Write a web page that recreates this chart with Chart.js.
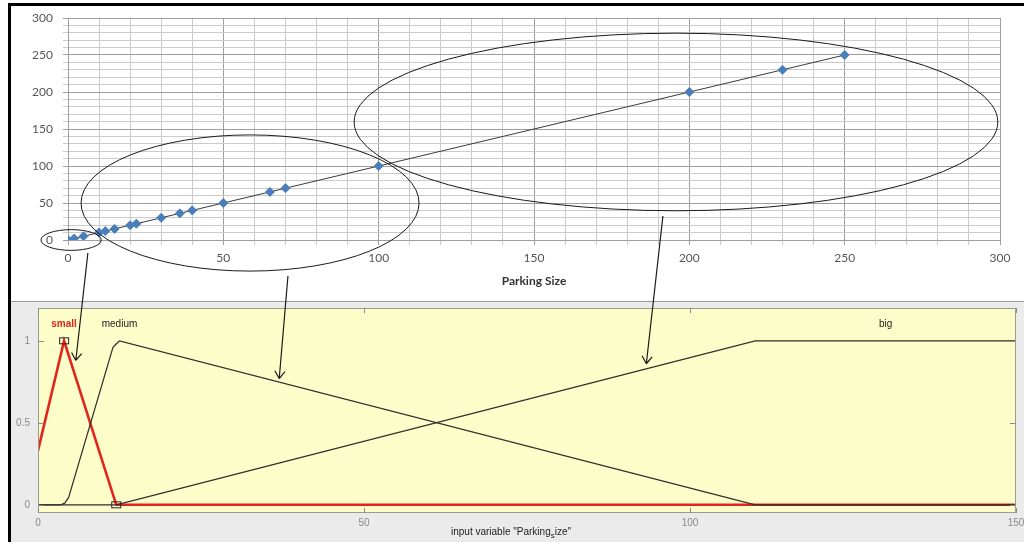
<!DOCTYPE html>
<html>
<head>
<meta charset="utf-8">
<script src="https://cdn.jsdelivr.net/npm/chart.js@4/dist/chart.umd.min.js"></script>
<style>
  body { margin: 0; width: 1024px; height: 542px; position: relative; background: #fff; overflow: hidden; }
  .box { position: absolute; }
  #frame { left: 8px; top: 3px; width: 1016px; height: 539px; border-left: 3px solid #000; border-top: 3px solid #000; }
  #topBox { left: 11px; top: 6px; width: 1013px; height: 296px; background: #fff; }
  #rule { left: 11px; top: 301px; width: 1013px; height: 1px; background: #9a9a9a; }
  #bottomBox { left: 11px; top: 302px; width: 1013px; height: 240px; background: #ebebeb; }
  #arrows { position: absolute; left: 0; top: 0; pointer-events: none; }
</style>
</head>
<body>
<div class="box" id="frame"></div>
<div class="box" id="topBox"><canvas id="sizeChart" width="1013" height="296"></canvas></div>
<div class="box" id="rule"></div>
<div class="box" id="bottomBox"><canvas id="mfChart" width="1013" height="240"></canvas></div>
<canvas id="arrows" width="1024" height="542"></canvas>

<script>
// parking size vs. output (scatter with straight line)
const parkingSize = [0, 2, 5, 10, 12, 15, 20, 22, 30, 36, 40, 50, 65, 70, 100, 200, 230, 250];
const parkingOut  = [0, 2, 5, 10, 12, 15, 20, 22, 30, 36, 40, 50, 65, 70, 100, 200, 230, 250];
const sizeTicks = [0, 50, 100, 150, 200, 250, 300];

// membership functions of the input variable
const mfNames = ['small', 'medium', 'big'];
const smallX  = [0, 4, 12, 150];
const smallY  = [0.33, 1, 0, 0];
const mediumX = [0, 3.5, 4.1, 4.7, 11.5, 12.1, 12.5, 110, 150];
const mediumY = [0, 0, 0.01, 0.045, 0.96, 0.985, 1, 0, 0];
const bigX    = [0, 12, 110, 150];
const bigY    = [0, 0, 1, 1];
const mfXTicks = [0, 50, 100, 150];
const mfYTicks = [0, 0.5, 1];

// groups circled on the upper chart (data units)
const rings = [
  { cx: 1, cy: 0, rx: 9.7, ry: 14 },
  { cx: 58.6, cy: 50, rx: 54.4, ry: 92 },
  { cx: 195.7, cy: 159.5, rx: 103.6, ry: 120 }
];
// arrows from each group (upper chart units) to its membership curve (lower chart units)
const pointers = [
  { from: [6.4, -17.6], to: [5.8, 0.88] },
  { from: [70.8, -48.6], to: [37, 0.77] },
  { from: [191.5, 32.4], to: [93.3, 0.86] }
];

const toPoints = (xs, ys) => xs.map((x, i) => ({ x: x, y: ys[i] }));

// keep the plot box where the layout padding puts it
const noEdgePad = s => { s.paddingTop = 0; s.paddingBottom = 0; s.paddingLeft = 0; s.paddingRight = 0; };

const ringPlugin = {
  id: 'rings',
  afterDraw(chart) {
    const { ctx, scales: { x, y } } = chart;
    ctx.save();
    ctx.strokeStyle = '#1a1a1a';
    ctx.lineWidth = 1;
    rings.forEach(r => {
      const px = x.getPixelForValue(r.cx);
      const py = y.getPixelForValue(r.cy);
      const rx = Math.abs(x.getPixelForValue(r.cx + r.rx) - px);
      const ry = Math.abs(y.getPixelForValue(r.cy + r.ry) - py);
      ctx.beginPath();
      ctx.ellipse(px, py, rx, ry, 0, 0, Math.PI * 2);
      ctx.stroke();
    });
    ctx.restore();
  }
};

const gridColor = c => (c.tick && c.tick.value % 50 === 0) ? '#9e9e9e' : '#cbcbcb';
const tickText = v => sizeTicks.includes(v) ? v : '';

const sizeChart = new Chart(document.getElementById('sizeChart'), {
  type: 'scatter',
  data: {
    datasets: [{
      data: toPoints(parkingSize, parkingOut),
      showLine: true,
      borderColor: '#3a3a3a',
      borderWidth: 1,
      pointStyle: 'rectRot',
      pointRadius: 4.5,
      pointBackgroundColor: '#4a7ebb',
      pointBorderColor: '#4a7ebb'
    }]
  },
  options: {
    responsive: false,
    animation: false,
    layout: { padding: { top: 12, right: 24, left: 0, bottom: 0 } },
    plugins: { legend: { display: false }, tooltip: { enabled: false } },
    scales: {
      x: {
        type: 'linear', min: 0, max: 300,
        afterFit: s => { s.height = 62; noEdgePad(s); },
        grid: { color: gridColor, tickLength: 5 },
        border: { color: '#9e9e9e' },
        ticks: { stepSize: 10, autoSkip: false, maxRotation: 0, callback: tickText, padding: 6,
                 color: '#555', font: { family: 'Lato', size: 12 } },
        title: { display: true, text: 'Parking Size', color: '#333',
                 font: { family: 'Lato', size: 12, weight: 'bold' }, padding: { top: 0, bottom: 14 } }
      },
      y: {
        type: 'linear', min: 0, max: 300,
        afterFit: s => { s.width = 57; noEdgePad(s); },
        grid: { color: gridColor, tickLength: 5 },
        border: { color: '#9e9e9e' },
        ticks: { stepSize: 10, autoSkip: false, callback: tickText, padding: 10,
                 color: '#555', font: { family: 'Lato', size: 12 } }
      }
    }
  },
  plugins: [ringPlugin]
});

// small outlined marker used on the selected membership function
const marker = document.createElement('canvas');
marker.width = 12; marker.height = 9;
(() => {
  const m = marker.getContext('2d');
  m.strokeStyle = '#222';
  m.lineWidth = 1;
  m.strokeRect(1.5, 1.5, 9, 6);
})();

const axisFont = '10px "Liberation Sans", Arial, sans-serif';

const mfPlugin = {
  id: 'mfFrame',
  beforeDatasetsDraw(chart) {
    const { ctx, chartArea: a } = chart;
    ctx.save();
    ctx.fillStyle = '#fdfdc9';
    ctx.fillRect(a.left, a.top, a.right - a.left, a.bottom - a.top);
    ctx.restore();
  },
  afterDraw(chart) {
    const { ctx, chartArea: a, scales: { x, y } } = chart;
    ctx.save();
    ctx.strokeStyle = '#9c9c8c';
    ctx.lineWidth = 1;
    ctx.strokeRect(a.left + 0.5, a.top + 0.5, a.right - a.left - 1, a.bottom - a.top - 1);

    // inward tick marks on all four sides
    ctx.strokeStyle = '#8a8a8a';
    ctx.beginPath();
    mfXTicks.forEach(v => {
      const px = Math.round(x.getPixelForValue(v)) + 0.5;
      ctx.moveTo(px, a.top); ctx.lineTo(px, a.top + 5);
      ctx.moveTo(px, a.bottom); ctx.lineTo(px, a.bottom - 5);
    });
    mfYTicks.forEach(v => {
      const py = Math.round(y.getPixelForValue(v)) + 0.5;
      ctx.moveTo(a.left, py); ctx.lineTo(a.left + 6, py);
      ctx.moveTo(a.right, py); ctx.lineTo(a.right - 6, py);
    });
    ctx.stroke();

    // membership function names above each peak
    const curves = [[smallX, smallY], [mediumX, mediumY], [bigX, bigY]];
    ctx.textAlign = 'center';
    ctx.textBaseline = 'middle';
    curves.forEach(([xs, ys], i) => {
      const top = Math.max(...ys);
      const atTop = xs.filter((v, k) => ys[k] === top);
      const cx = (Math.min(...atTop) + Math.max(...atTop)) / 2;
      ctx.font = i === 0 ? 'bold 10px "Liberation Sans", Arial, sans-serif' : axisFont;
      ctx.fillStyle = i === 0 ? '#e3231d' : '#222';
      ctx.fillText(mfNames[i], x.getPixelForValue(cx), y.getPixelForValue(1.1));
    });

    // axis title with subscripted "s"
    const parts = ['input variable "Parking', 's', 'ize"'];
    ctx.font = axisFont;
    const w0 = ctx.measureText(parts[0]).width;
    const w2 = ctx.measureText(parts[2]).width;
    ctx.font = '8px "Liberation Sans", Arial, sans-serif';
    const w1 = ctx.measureText(parts[1]).width;
    const midX = (a.left + a.right) / 2 - 16;
    let tx = midX - (w0 + w1 + w2) / 2;
    const ty = a.bottom + 19;
    ctx.textAlign = 'left';
    ctx.fillStyle = '#222';
    ctx.font = axisFont;
    ctx.fillText(parts[0], tx, ty);
    tx += w0;
    ctx.font = '8px "Liberation Sans", Arial, sans-serif';
    ctx.fillText(parts[1], tx, ty + 4);
    tx += w1;
    ctx.font = axisFont;
    ctx.fillText(parts[2], tx, ty);
    ctx.restore();
  }
};

const mfChart = new Chart(document.getElementById('mfChart'), {
  type: 'scatter',
  data: {
    datasets: [
      {
        data: [{ x: smallX[1], y: smallY[1] }, { x: smallX[2], y: smallY[2] }],
        showLine: false, pointStyle: marker, pointRadius: 5
      },
      {
        data: toPoints(mediumX, mediumY), showLine: true,
        borderColor: '#2e2e2e', borderWidth: 1.2, pointRadius: 0
      },
      {
        data: toPoints(bigX, bigY), showLine: true,
        borderColor: '#2e2e2e', borderWidth: 1.2, pointRadius: 0
      },
      {
        data: toPoints(smallX, smallY), showLine: true,
        borderColor: '#e3231d', borderWidth: 2.6, pointRadius: 0
      }
    ]
  },
  options: {
    responsive: false,
    animation: false,
    layout: { padding: { top: 5, right: 8, left: 0, bottom: 0 } },
    plugins: { legend: { display: false }, tooltip: { enabled: false } },
    scales: {
      x: {
        type: 'linear', min: 0, max: 150,
        afterBuildTicks: s => { s.ticks = mfXTicks.map(v => ({ value: v })); },
        afterFit: s => { s.height = 29; noEdgePad(s); },
        grid: { display: false, drawTicks: false },
        border: { display: false },
        ticks: { padding: 4, color: '#8a8a8a', font: { family: 'Liberation Sans', size: 10 } }
      },
      y: {
        type: 'linear', min: -0.05, max: 1.2,
        afterBuildTicks: s => { s.ticks = mfYTicks.map(v => ({ value: v })); },
        afterFit: s => { s.width = 27; noEdgePad(s); },
        grid: { display: false, drawTicks: false },
        border: { display: false },
        ticks: { padding: 8, color: '#8a8a8a', font: { family: 'Liberation Sans', size: 10 },
                 callback: v => String(v) }
      }
    }
  },
  plugins: [mfPlugin]
});

// arrows crossing from the upper chart to the lower one
function drawArrows() {
  const ctx = document.getElementById('arrows').getContext('2d');
  const topOff = { x: 11, y: 6 };
  const botOff = { x: 11, y: 302 };
  ctx.strokeStyle = '#1a1a1a';
  ctx.lineWidth = 1.2;
  pointers.forEach(p => {
    const x1 = topOff.x + sizeChart.scales.x.getPixelForValue(p.from[0]);
    const y1 = topOff.y + sizeChart.scales.y.getPixelForValue(p.from[1]);
    const x2 = botOff.x + mfChart.scales.x.getPixelForValue(p.to[0]);
    const y2 = botOff.y + mfChart.scales.y.getPixelForValue(p.to[1]);
    const ang = Math.atan2(y2 - y1, x2 - x1);
    ctx.beginPath();
    ctx.moveTo(x1, y1);
    ctx.lineTo(x2, y2);
    [0.6, -0.6].forEach(d => {
      ctx.moveTo(x2, y2);
      ctx.lineTo(x2 - 9 * Math.cos(ang + d), y2 - 9 * Math.sin(ang + d));
    });
    ctx.stroke();
  });
}
drawArrows();
</script>
</body>
</html>
